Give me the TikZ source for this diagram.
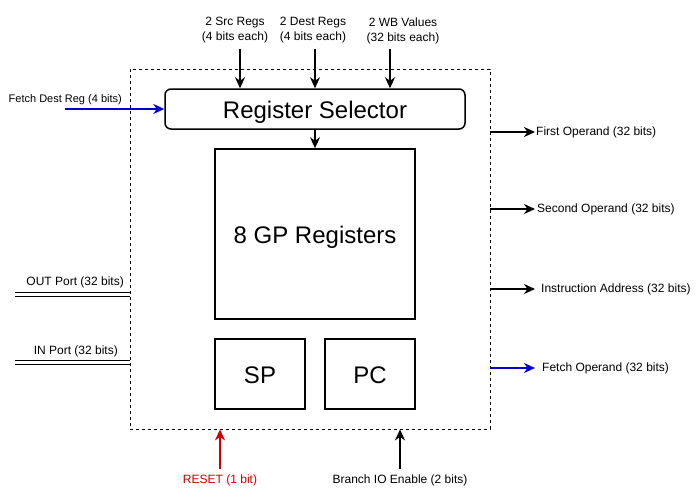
\documentclass[tikz,border=0pt]{standalone}
\usepackage{fontspec}
\setmainfont{Liberation Sans}
\usetikzlibrary{arrows.meta}

\definecolor{fetchblue}{HTML}{0000CC}
\definecolor{resetred}{HTML}{CC0000}

\tikzset{
	box/.style={draw, line width=1.5pt, font=\fontsize{24}{28}\selectfont, inner sep=0pt, text height=18pt, text depth=0pt},
	lbl/.style={font=\fontsize{12}{15}\selectfont, inner sep=0pt, align=center},
	sig/.style={line width=1.6pt, -{Stealth[length=11pt,width=10pt,inset=3.5pt]}},
	bus/.style={double, double distance=3pt, line width=1pt},
}

\begin{document}
\begin{tikzpicture}[x=1pt, y=-1pt]
	\useasboundingbox (0,0) rectangle (700,495);

	% register file outline
	\node[draw, dash pattern=on 3pt off 3pt, line width=0.8pt, minimum width=360pt, minimum height=360pt, inner sep=0pt] (unit) at (310,249) {};
	\node[box, rounded corners=6pt, minimum width=300pt, minimum height=40pt] (sel) at (315,109) {Register Selector};
	\node[box, minimum width=200pt, minimum height=170pt] (gp) at (315,234) {8 GP Registers};
	\node[box, minimum width=90pt, minimum height=70pt] (sp) at (260,374) {SP};
	\node[box, minimum width=90pt, minimum height=70pt] (pc) at (370,374) {PC};
	\draw[sig] (sel) -- (gp);

	% inputs on top
	\foreach \x/\lx/\nm/\txt in {240/235/src/{2 Src Regs\\(4 bits each)}, 315/313/dst/{2 Dest Regs\\(4 bits each)}, 390/403/wb/{2 WB Values\\(32 bits each)}}{
		\node[lbl] (\nm) at (\lx,30.5) {\txt};
		\coordinate (\nm in) at (\x,49);
		\draw[sig] (\nm in) -- (\nm in |- sel.north);
	}

	\node[lbl, font=\fontsize{11}{13}\selectfont, anchor=east] (fdr) at (122,100) {Fetch Dest Reg (4 bits)};
	\coordinate (fdr in) at (65,109);
	\draw[sig, fetchblue] (fdr in) -- (sel.west);

	% outputs
	\foreach \y/\lx/\nm/\col/\txt in {132/536/first/black/First Operand (32 bits), 209/537/second/black/Second Operand (32 bits), 289/541/instr/black/Instruction Address (32 bits), 368/542/fetch/fetchblue/Fetch Operand (32 bits)}{
		\node[lbl, anchor=west] (\nm) at (\lx,\y+0.5) {\txt};
		\coordinate (\nm out) at (535,\y);
		\draw[sig, \col] (unit.east |- \nm out) -- (\nm out);
	}

	% ports
	\node[lbl, anchor=east] (outlbl) at (124,282) {OUT Port (32 bits)};
	\node[lbl, anchor=east] (inlbl) at (118,351) {IN Port (32 bits)};
	\coordinate (out in) at (15,294.5);
	\coordinate (in in) at (15,362);
	\draw[bus] (out in) -- (unit.west |- out in);
	\draw[bus] (in in) -- (unit.west |- in in);

	% bottom
	\node[lbl, text=resetred] (rst) at (220,480) {RESET (1 bit)};
	\node[lbl] (br) at (400,480) {Branch IO Enable (2 bits)};
	\coordinate (rst in) at (220,469);
	\coordinate (br in) at (400,469);
	\draw[sig, resetred] (rst in) -- (rst in |- unit.south);
	\draw[sig] (br in) -- (br in |- unit.south);

\end{tikzpicture}
\end{document}
